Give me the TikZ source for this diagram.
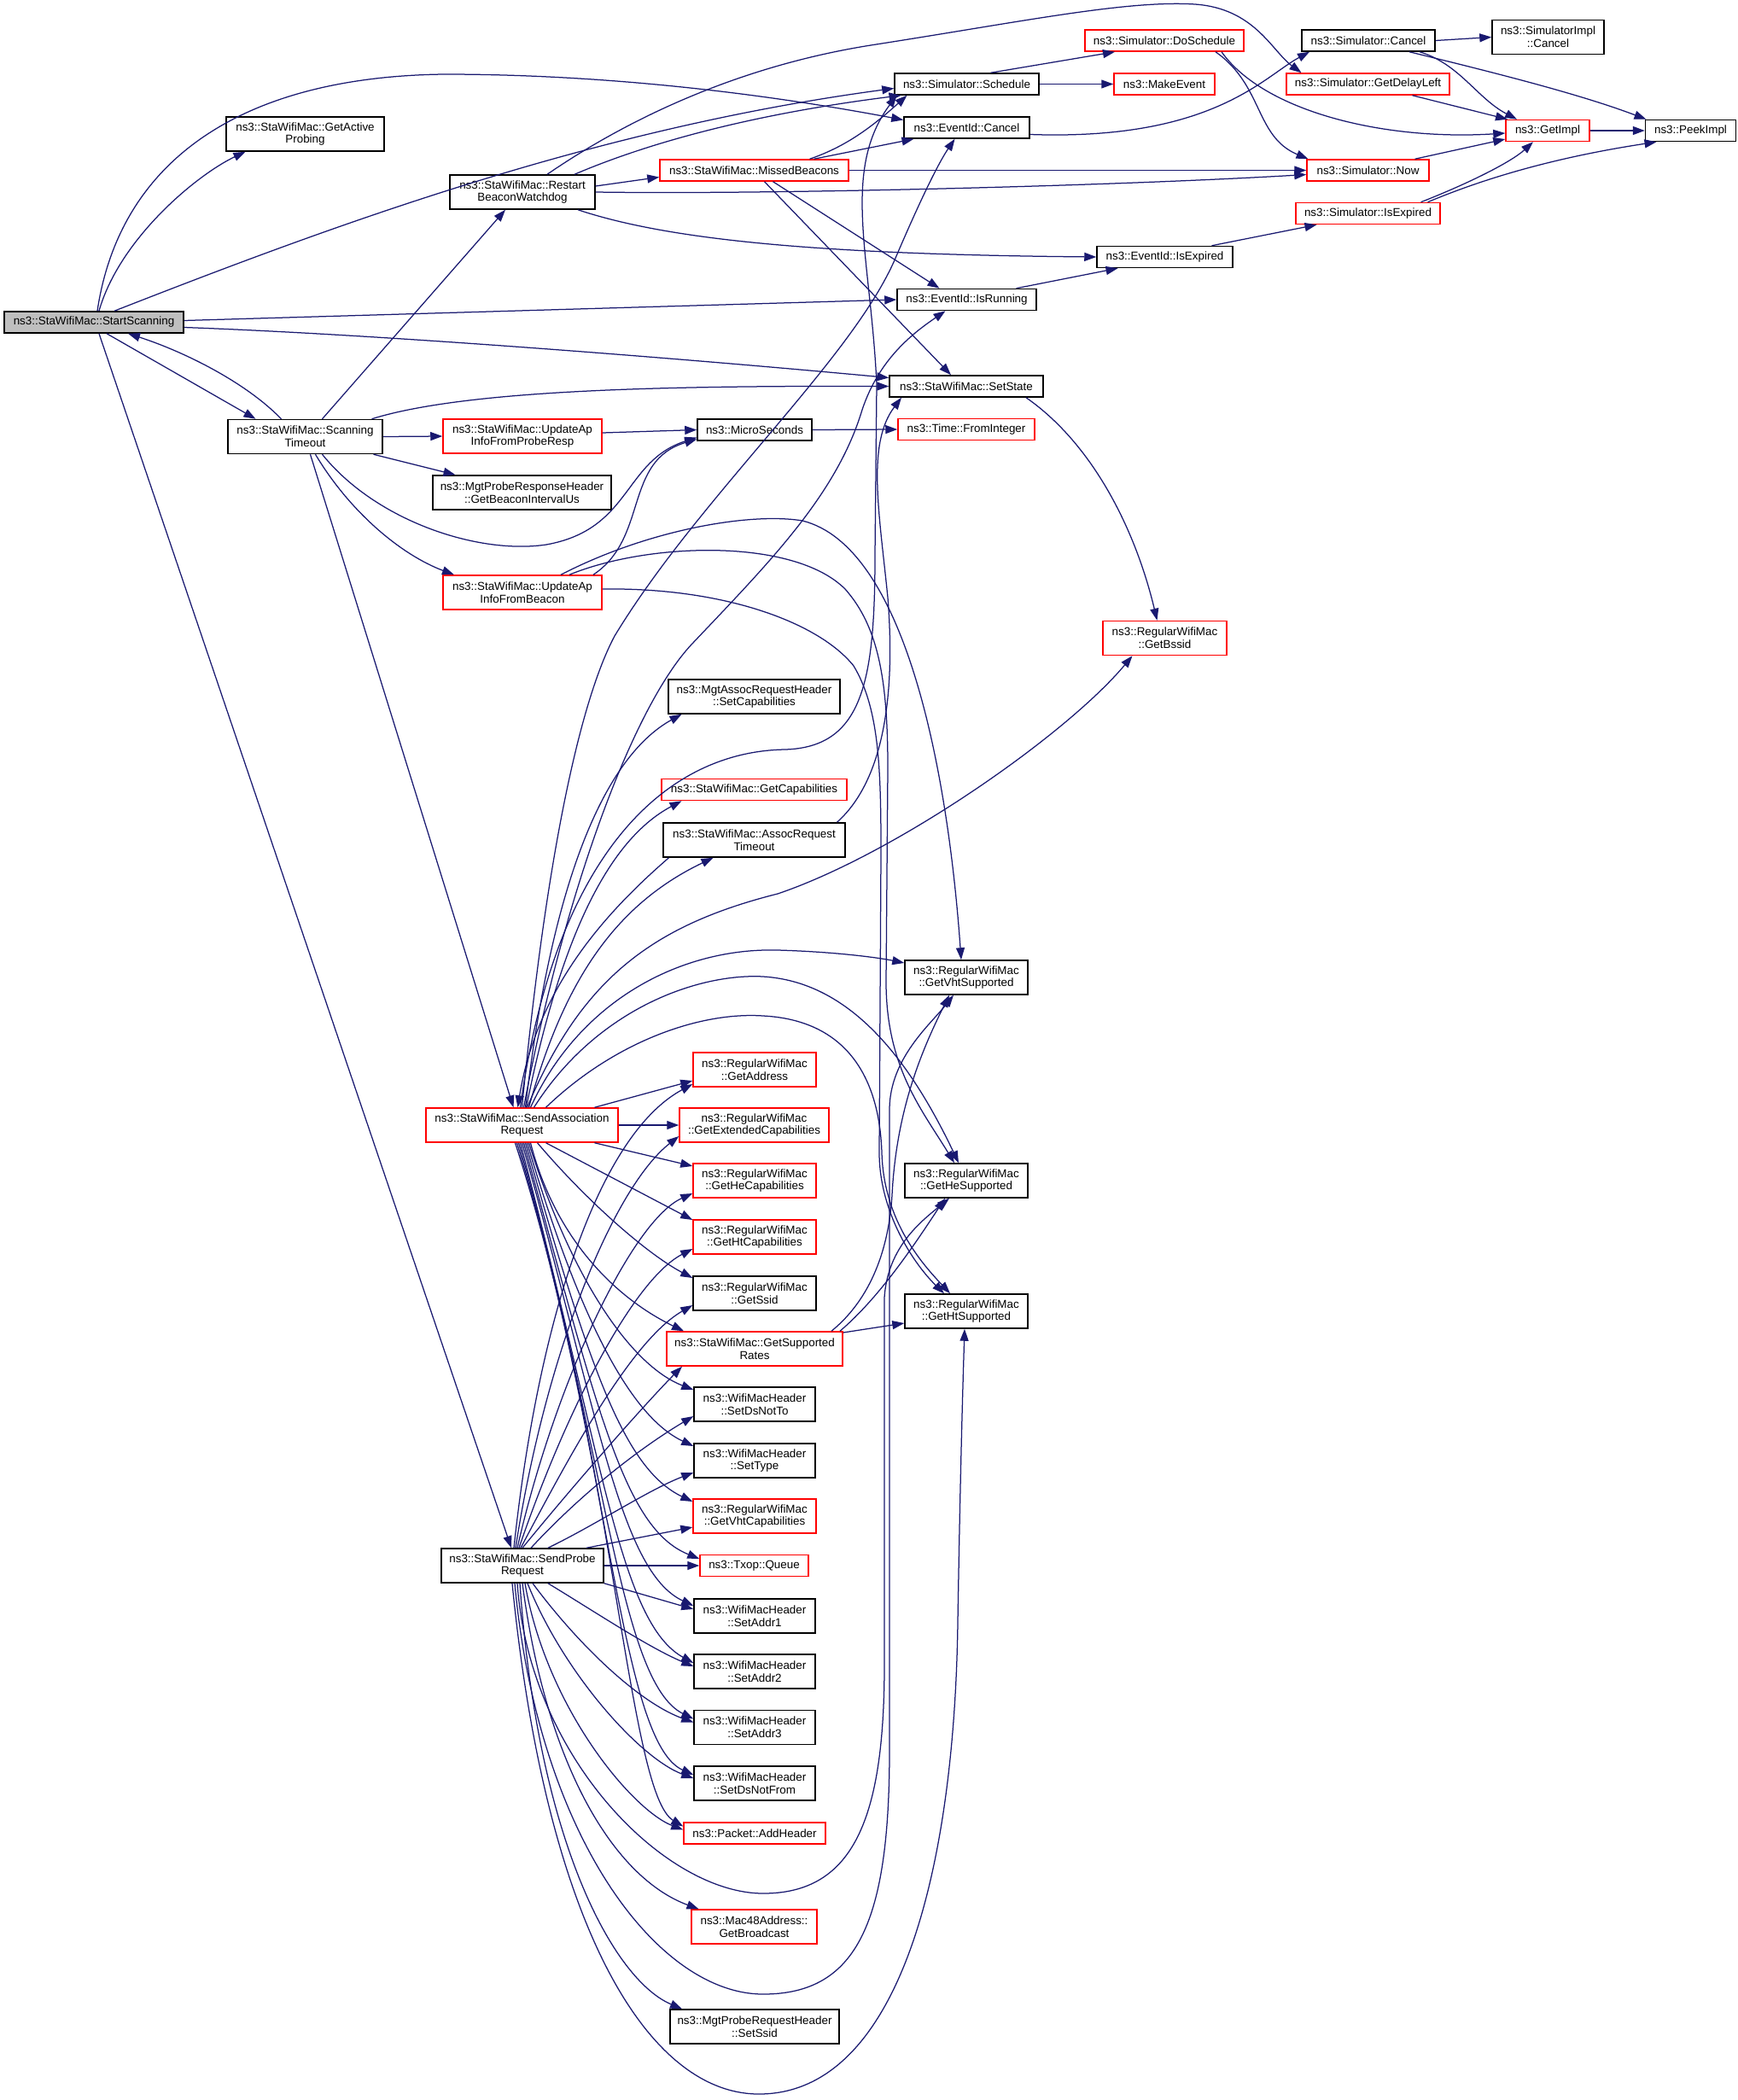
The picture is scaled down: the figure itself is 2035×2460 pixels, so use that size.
\documentclass[tikz,border=0pt]{standalone}
\usepackage{fontspec}
\setmainfont{Liberation Sans}
\usetikzlibrary{arrows.meta}
\definecolor{edgec}{HTML}{191970}
\definecolor{redc}{HTML}{FF0000}
\begin{document}
\begin{tikzpicture}[x=1pt,y=-1pt,
  box/.style={draw=black, line width=1.5pt, rectangle, inner sep=1pt, align=center, fill=white,
    font=\fontsize{13.4}{14.8}\selectfont},
  rbox/.style={box, draw=redc},
  edge/.style={draw=edgec, line width=1.25pt, -{Triangle[length=14pt,width=10pt]}}]
\useasboundingbox[fill=white] (0,0) rectangle (2035,2460);
% ---------- nodes ----------
\node[box,fill=black!25,minimum width=210pt,minimum height=25pt] (ss) at (110,377.5) {ns3::StaWifiMac::StartScanning};
\node[box,minimum width=185pt,minimum height=40pt] (gap) at (357.5,157) {ns3::StaWifiMac::GetActive\\Probing};
\node[box,minimum width=170pt,minimum height=40pt] (rbw) at (612,225) {ns3::StaWifiMac::Restart\\BeaconWatchdog};
\node[box,minimum width=181pt,minimum height=40pt] (st) at (357.5,511.5) {ns3::StaWifiMac::Scanning\\Timeout};
\node[rbox,minimum width=186pt,minimum height=40pt] (uapr) at (612,511) {ns3::StaWifiMac::UpdateAp\\InfoFromProbeResp};
\node[box,minimum width=209pt,minimum height=40pt] (gbi) at (611.5,577) {ns3::MgtProbeResponseHeader\\::GetBeaconIntervalUs};
\node[rbox,minimum width=186pt,minimum height=40pt] (uab) at (612,694) {ns3::StaWifiMac::UpdateAp\\InfoFromBeacon};
\node[rbox,minimum width=225pt,minimum height=40pt] (sa) at (611.5,1318) {ns3::StaWifiMac::SendAssociation\\Request};
\node[box,minimum width=190pt,minimum height=40pt] (sp) at (612,1834) {ns3::StaWifiMac::SendProbe\\Request};
\node[box,minimum width=169pt,minimum height=25pt] (sched) at (1132.5,98.5) {ns3::Simulator::Schedule};
\node[box,minimum width=147pt,minimum height=25pt] (ecancel) at (1132.5,149.5) {ns3::EventId::Cancel};
\node[rbox,minimum width=221pt,minimum height=25pt] (mb) at (883.5,199.5) {ns3::StaWifiMac::MissedBeacons};
\node[box,minimum width=163pt,minimum height=25pt] (irun) at (1132.5,351) {ns3::EventId::IsRunning};
\node[box,minimum width=180pt,minimum height=25pt] (sst) at (1132,452.5) {ns3::StaWifiMac::SetState};
\node[box,minimum width=134pt,minimum height=25pt] (micro) at (884,503.5) {ns3::MicroSeconds};
\node[box,minimum width=201pt,minimum height=40pt] (scap) at (883.5,816) {ns3::MgtAssocRequestHeader\\::SetCapabilities};
\node[rbox,minimum width=217pt,minimum height=25pt] (gcap) at (883.5,925) {ns3::StaWifiMac::GetCapabilities};
\node[box,minimum width=213pt,minimum height=40pt] (art) at (883.5,984) {ns3::StaWifiMac::AssocRequest\\Timeout};
\node[rbox,minimum width=144pt,minimum height=40pt] (gaddr) at (884,1253) {ns3::RegularWifiMac\\::GetAddress};
\node[rbox,minimum width=175pt,minimum height=40pt] (gext) at (883.5,1318) {ns3::RegularWifiMac\\::GetExtendedCapabilities};
\node[rbox,minimum width=144pt,minimum height=40pt] (ghec) at (884,1383) {ns3::RegularWifiMac\\::GetHeCapabilities};
\node[rbox,minimum width=144pt,minimum height=40pt] (ghtc) at (884,1449) {ns3::RegularWifiMac\\::GetHtCapabilities};
\node[box,minimum width=144pt,minimum height=40pt] (gssid) at (884,1515) {ns3::RegularWifiMac\\::GetSsid};
\node[rbox,minimum width=206pt,minimum height=40pt] (gsr) at (884,1580) {ns3::StaWifiMac::GetSupported\\Rates};
\node[box,minimum width=142pt,minimum height=40pt] (sdnt) at (884,1645) {ns3::WifiMacHeader\\::SetDsNotTo};
\node[box,minimum width=142pt,minimum height=40pt] (stype) at (884,1711) {ns3::WifiMacHeader\\::SetType};
\node[rbox,minimum width=144pt,minimum height=40pt] (gvhtc) at (884,1776) {ns3::RegularWifiMac\\::GetVhtCapabilities};
\node[rbox,minimum width=127pt,minimum height=25pt] (queue) at (883.5,1834) {ns3::Txop::Queue};
\node[box,minimum width=142pt,minimum height=40pt] (sa1) at (884,1893) {ns3::WifiMacHeader\\::SetAddr1};
\node[box,minimum width=142pt,minimum height=40pt] (sa2) at (884,1958) {ns3::WifiMacHeader\\::SetAddr2};
\node[box,minimum width=142pt,minimum height=40pt] (sa3) at (884,2023.5) {ns3::WifiMacHeader\\::SetAddr3};
\node[box,minimum width=142pt,minimum height=40pt] (sdnf) at (884,2089) {ns3::WifiMacHeader\\::SetDsNotFrom};
\node[rbox,minimum width=166pt,minimum height=25pt] (addh) at (884,2147.5) {ns3::Packet::AddHeader};
\node[rbox,minimum width=147pt,minimum height=40pt] (gbc) at (883.5,2257) {ns3::Mac48Address::\\GetBroadcast};
\node[box,minimum width=198pt,minimum height=40pt] (pssid) at (884,2374) {ns3::MgtProbeRequestHeader\\::SetSsid};
\node[box,minimum width=144pt,minimum height=40pt] (gvht) at (1132,1145) {ns3::RegularWifiMac\\::GetVhtSupported};
\node[box,minimum width=144pt,minimum height=40pt] (ghe) at (1132,1383) {ns3::RegularWifiMac\\::GetHeSupported};
\node[box,minimum width=144pt,minimum height=40pt] (ght) at (1132,1536) {ns3::RegularWifiMac\\::GetHtSupported};
\node[rbox,minimum width=186pt,minimum height=25pt] (dosched) at (1364,47.5) {ns3::Simulator::DoSchedule};
\node[rbox,minimum width=118pt,minimum height=25pt] (mkev) at (1364,98.5) {ns3::MakeEvent};
\node[rbox,minimum width=143pt,minimum height=25pt] (now) at (1602.5,199.5) {ns3::Simulator::Now};
\node[box,minimum width=159pt,minimum height=25pt] (eiexp) at (1364.5,301) {ns3::EventId::IsExpired};
\node[rbox,minimum width=160pt,minimum height=25pt] (fromint) at (1132,503) {ns3::Time::FromInteger};
\node[rbox,minimum width=145pt,minimum height=40pt] (bssid) at (1364.5,747.5) {ns3::RegularWifiMac\\::GetBssid};
\node[box,minimum width=156pt,minimum height=25pt] (scancel) at (1603,47.5) {ns3::Simulator::Cancel};
\node[rbox,minimum width=191pt,minimum height=25pt] (gdl) at (1602.5,98.5) {ns3::Simulator::GetDelayLeft};
\node[rbox,minimum width=169pt,minimum height=25pt] (sexp) at (1602.5,250) {ns3::Simulator::IsExpired};
\node[rbox,minimum width=98pt,minimum height=25pt] (gimpl) at (1813,153) {ns3::GetImpl};
\node[box,minimum width=131pt,minimum height=40pt] (simpl) at (1813.5,43.5) {ns3::SimulatorImpl\\::Cancel};
\node[box,minimum width=106pt,minimum height=25pt] (peek) at (1980.5,153) {ns3::PeekImpl};
% ---------- StartScanning ----------
\draw[edge] ([xshift=6pt]ss.north) .. controls (140,280) and (230,205) .. ([xshift=-70pt]gap.south);
\draw[edge] ([xshift=4pt]ss.north) .. controls (140,190) and (280,90) .. (520,87) .. controls (750,87) and (950,120) .. ([yshift=9pt]ecancel.west);
\draw[edge] ([xshift=24pt]ss.north) .. controls (400,260) and (700,150) .. ([yshift=-5pt]sched.west);
\draw[edge] ([yshift=2pt]ss.east) -- (irun.west);
\draw[edge] ([yshift=-6pt]ss.east) .. controls (450,392) and (800,420) .. ([yshift=10pt]sst.west);
\draw[edge] ([xshift=15pt]ss.south) -- ([xshift=-58pt]st.north);
\draw[edge] ([xshift=-28pt]st.north) .. controls (285,445) and (210,410) .. ([xshift=40pt]ss.south);
\draw[edge] ([xshift=6pt]ss.south) -- ([xshift=-13pt]sp.north);
% ---------- RestartBeaconWatchdog ----------
\draw[edge] ([yshift=7pt]rbw.east) -- ([yshift=-8pt]mb.west);
\draw[edge] ([xshift=29pt]rbw.north) .. controls (720,150) and (850,80) .. (1020,53) .. controls (1200,25) and (1320,0) .. (1400,5) .. controls (1470,10) and (1490,60) .. ([xshift=-78pt]gdl.north);
\draw[edge] ([xshift=61pt]rbw.north) .. controls (800,150) and (950,125) .. ([xshift=-77pt]sched.south);
\draw[edge] (rbw.east) .. controls (900,228) and (1300,218) .. ([yshift=-5pt]now.west);
\draw[edge] ([xshift=65pt]rbw.south) .. controls (780,280) and (950,298) .. (eiexp.west);
% ---------- MissedBeacons ----------
\draw[edge] (mb.east) -- (now.west);
\draw[edge] ([xshift=65pt]mb.north) .. controls (990,172) and (1020,150) .. ([xshift=-70pt]sched.south);
\draw[edge] ([xshift=70pt]mb.north) -- ([xshift=-62pt]ecancel.south);
\draw[edge] ([xshift=22pt]mb.south) -- ([xshift=-32pt]irun.north);
\draw[edge] ([xshift=12pt]mb.south) -- ([xshift=-18pt]sst.north);
% ---------- ScanningTimeout ----------
\draw[edge] ([xshift=20pt]st.north) -- ([xshift=-20pt]rbw.south);
\draw[edge] (st.east) -- (uapr.west);
\draw[edge] ([xshift=80pt]st.south) -- ([xshift=-78pt]gbi.north);
\draw[edge] ([xshift=12pt]st.south) .. controls (410,600) and (470,650) .. ([xshift=-80pt]uab.north);
\draw[edge] ([xshift=78pt]st.north) .. controls (550,455) and (800,452) .. (sst.west);
\draw[edge] ([xshift=20pt]st.south) .. controls (440,610) and (560,650) .. (640,638) .. controls (740,620) and (730,540) .. ([yshift=-9pt]micro.west);
\draw[edge] ([xshift=6pt]st.south) -- ([xshift=-10pt]sa.north);
% ---------- UpdateApInfo ----------
\draw[edge] ([yshift=4pt]uapr.east) -- (micro.west);
\draw[edge] ([xshift=83pt]uab.north) .. controls (760,630) and (730,540) .. ([yshift=-11pt]micro.west);
\draw[edge] ([xshift=45pt]uab.north) .. controls (760,620) and (880,600) .. (940,610) .. controls (1060,640) and (1110,900) .. ([xshift=-6pt]gvht.north);
\draw[edge] ([xshift=55pt]uab.north) .. controls (760,635) and (930,630) .. (990,690) .. controls (1030,735) and (1040,800) .. (1040,900) -- (1038,1150) .. controls (1038,1250) and (1080,1300) .. ([xshift=-14pt]ghe.north);
\draw[edge] ([yshift=4pt]uab.east) .. controls (850,688) and (960,730) .. (1000,780) .. controls (1030,830) and (1032,900) .. (1032,1000) -- (1030,1350) .. controls (1030,1420) and (1070,1480) .. ([xshift=-26pt]ght.north);
% ---------- misc ----------
\draw[edge] (micro.east) -- (fromint.west);
\draw[edge] ([xshift=70pt]sst.south) .. controls (1280,520) and (1330,620) .. ([xshift=-9pt]bssid.north);
\draw[edge] ([xshift=28pt]sched.north) -- ([xshift=-58pt]dosched.south);
\draw[edge] (sched.east) -- (mkev.west);
\draw[edge] ([yshift=-8pt]ecancel.east) .. controls (1420,165) and (1480,90) .. ([xshift=-69pt]scancel.south);
\draw[edge] ([xshift=58pt]irun.north) -- ([xshift=-55pt]eiexp.south);
\draw[edge] ([xshift=55pt]eiexp.north) -- ([xshift=-60pt]sexp.south);
\draw[edge] ([xshift=67pt]dosched.south) .. controls (1480,130) and (1620,165) .. ([yshift=-3pt]gimpl.west);
\draw[edge] ([xshift=60pt]dosched.south) .. controls (1480,100) and (1470,160) .. ([xshift=-70pt]now.north);
\draw[edge] (scancel.east) -- (simpl.west);
\draw[edge] ([xshift=60pt]scancel.south) .. controls (1710,75) and (1730,115) .. ([xshift=-36pt]gimpl.north);
\draw[edge] ([xshift=48pt]scancel.south) .. controls (1750,85) and (1850,110) .. ([xshift=-52pt]peek.north);
\draw[edge] ([xshift=52pt]gdl.south) -- ([xshift=-47pt]gimpl.north);
\draw[edge] ([xshift=55pt]now.north) -- ([yshift=-10pt]gimpl.west);
\draw[edge] ([xshift=62pt]sexp.north) .. controls (1720,215) and (1770,190) .. ([xshift=-17pt]gimpl.south);
\draw[edge] ([xshift=70pt]sexp.north) .. controls (1760,200) and (1850,180) .. ([xshift=-40pt]peek.south);
\draw[edge] (gimpl.east) -- (peek.west);
% ---------- SendAssociationRequest (up) ----------
\draw[edge] ([xshift=4pt]sa.north) .. controls (650,1000) and (720,880) .. ([xshift=-85pt]scap.south);
\draw[edge] ([xshift=5pt]sa.north) .. controls (660,1080) and (720,980) .. ([xshift=-85pt]gcap.south);
\draw[edge] ([xshift=8pt]sa.north) .. controls (660,1150) and (720,1060) .. ([xshift=-48pt]art.south);
\draw[edge] ([xshift=-100pt]art.south) .. controls (720,1060) and (630,1150) .. ([xshift=-5pt]sa.north);
\draw[edge] ([xshift=97pt]art.north) .. controls (1040,910) and (1048,800) .. (1040,700) .. controls (1030,600) and (1015,520) .. ([xshift=-76pt]sst.south);
\draw[edge] ([xshift=-2pt]sa.north) .. controls (650,1000) and (780,880) .. (920,878) .. controls (1010,875) and (1025,800) .. (1025,650) -- (1027,450) .. controls (1020,300) and (985,200) .. ([xshift=-82pt]sched.south);
\draw[edge] (sa.north) .. controls (640,1000) and (680,820) .. (720,745) .. controls (820,580) and (1000,420) .. (1050,300) .. controls (1080,230) and (1100,190) .. ([xshift=-14pt]ecancel.south);
\draw[edge] ([xshift=2pt]sa.north) .. controls (660,1050) and (740,830) .. (810,755) .. controls (900,660) and (980,580) .. (1010,480) .. controls (1030,420) and (1070,390) .. ([xshift=-25pt]irun.south);
\draw[edge] ([xshift=6pt]sa.north) .. controls (680,1150) and (760,1085) .. (911,1047) .. controls (1050,1000) and (1250,860) .. ([xshift=-38pt]bssid.south);
\draw[edge] ([xshift=10pt]sa.north) .. controls (680,1170) and (800,1110) .. (911,1113) .. controls (980,1115) and (1030,1122) .. ([yshift=17pt]gvht.west);
\draw[edge] ([xshift=14pt]sa.north) .. controls (700,1180) and (820,1140) .. (894,1144) .. controls (990,1150) and (1060,1230) .. ([xshift=-9pt]ghe.north);
\draw[edge] ([xshift=28pt]sa.north) .. controls (720,1220) and (820,1185) .. (894,1190) .. controls (990,1195) and (1030,1260) .. (1033,1350) .. controls (1035,1430) and (1080,1480) .. ([xshift=-19pt]ght.north);
% ---------- SendAssociationRequest (right/down) ----------
\draw[edge] ([xshift=85pt]sa.north) -- ([yshift=-13pt]gaddr.west);
\draw[edge] (sa.east) -- (gext.west);
\draw[edge] ([xshift=85pt]sa.south) -- ([yshift=17pt]ghec.west);
\draw[edge] ([xshift=28pt]sa.south) -- ([yshift=20pt]ghtc.west);
\draw[edge] ([xshift=18pt]sa.south) .. controls (690,1410) and (760,1470) .. ([yshift=18pt]gssid.west);
\draw[edge] ([xshift=10pt]sa.south) .. controls (650,1450) and (720,1520) .. ([xshift=-83pt]gsr.north);
\draw[edge] ([xshift=8pt]sa.south) .. controls (670,1500) and (740,1600) .. ([yshift=17pt]sdnt.west);
\draw[edge] ([xshift=6pt]sa.south) .. controls (680,1550) and (740,1660) .. ([yshift=17pt]stype.west);
\draw[edge] ([xshift=4pt]sa.south) .. controls (690,1600) and (730,1720) .. ([yshift=17pt]gvhtc.west);
\draw[edge] ([xshift=2pt]sa.south) .. controls (700,1650) and (730,1790) .. ([yshift=8pt]queue.west);
\draw[edge] (sa.south) .. controls (700,1650) and (725,1840) .. ([yshift=12pt]sa1.west);
\draw[edge] ([xshift=-2pt]sa.south) .. controls (705,1700) and (725,1900) .. ([yshift=10pt]sa2.west);
\draw[edge] ([xshift=-4pt]sa.south) .. controls (710,1700) and (725,1970) .. ([yshift=10pt]sa3.west);
\draw[edge] ([xshift=-6pt]sa.south) .. controls (715,1700) and (725,2040) .. ([yshift=10pt]sdnf.west);
\draw[edge] ([xshift=-8pt]sa.south) .. controls (720,1700) and (735,2100) .. ([yshift=8pt]addh.west);
% ---------- SendProbeRequest ----------
\draw[edge] ([xshift=-10pt]sp.north) .. controls (630,1550) and (700,1330) .. ([yshift=-17pt]gaddr.west);
\draw[edge] ([xshift=-8pt]sp.north) .. controls (640,1580) and (720,1390) .. ([yshift=-13pt]gext.west);
\draw[edge] ([xshift=-6pt]sp.north) .. controls (650,1620) and (740,1430) .. ([yshift=-15pt]ghec.west);
\draw[edge] ([xshift=-4pt]sp.north) .. controls (660,1660) and (740,1500) .. ([yshift=-14pt]ghtc.west);
\draw[edge] ([xshift=-2pt]sp.north) .. controls (670,1700) and (740,1570) .. ([yshift=-14pt]gssid.west);
\draw[edge] (sp.north) .. controls (680,1730) and (760,1640) .. ([xshift=-85pt]gsr.south);
\draw[edge] ([xshift=10pt]sp.north) .. controls (690,1740) and (760,1690) .. ([yshift=-14pt]sdnt.west);
\draw[edge] ([xshift=30pt]sp.north) .. controls (700,1785) and (760,1745) .. ([yshift=-14pt]stype.west);
\draw[edge] ([xshift=75pt]sp.north) -- ([yshift=-13pt]gvhtc.west);
\draw[edge] (sp.east) -- (queue.west);
\draw[edge] (sp.south east) -- ([yshift=8pt]sa1.west);
\draw[edge] ([xshift=30pt]sp.south) .. controls (700,1890) and (760,1930) .. ([yshift=6pt]sa2.west);
\draw[edge] ([xshift=12pt]sp.south) .. controls (680,1930) and (750,1995) .. ([yshift=6pt]sa3.west);
\draw[edge] ([xshift=6pt]sp.south) .. controls (660,1960) and (750,2060) .. ([yshift=6pt]sdnf.west);
\draw[edge] ([xshift=3pt]sp.south) .. controls (640,2000) and (740,2120) .. ([yshift=4pt]addh.west);
\draw[edge] (sp.south) .. controls (640,2070) and (720,2200) .. ([xshift=-65pt]gbc.north);
\draw[edge] ([xshift=-3pt]sp.south) .. controls (630,2160) and (720,2320) .. ([xshift=-85pt]pssid.north);
\draw[edge] ([xshift=-6pt]sp.south) .. controls (620,2060) and (780,2218) .. (894,2218) .. controls (1000,2218) and (1036,2130) .. (1036,1950) -- (1036,1520) .. controls (1040,1460) and (1080,1430) .. ([xshift=-20pt]ghe.south);
\draw[edge] ([xshift=-9pt]sp.south) .. controls (630,2150) and (770,2336) .. (894,2336) .. controls (1005,2336) and (1042,2250) .. (1042,2050) -- (1042,1300) .. controls (1042,1240) and (1090,1200) .. ([xshift=-15pt]gvht.south);
\draw[edge] ([xshift=-12pt]sp.south) .. controls (640,2260) and (760,2453) .. (889,2453) .. controls (1050,2453) and (1118,2200) .. (1122,1900) .. controls (1125,1720) and (1128,1620) .. ([xshift=-2pt]ght.south);
% ---------- GetSupportedRates ----------
\draw[edge] ([xshift=90pt]gsr.north) .. controls (1010,1530) and (1040,1480) .. (1045,1400) .. controls (1050,1300) and (1080,1230) .. ([xshift=-20pt]gvht.south);
\draw[edge] ([xshift=100pt]gsr.north) .. controls (1030,1520) and (1070,1460) .. ([xshift=-25pt]ghe.south);
\draw[edge] ([yshift=19pt]gsr.east) -- ([yshift=-14pt]ght.west);
\end{tikzpicture}
\end{document}
